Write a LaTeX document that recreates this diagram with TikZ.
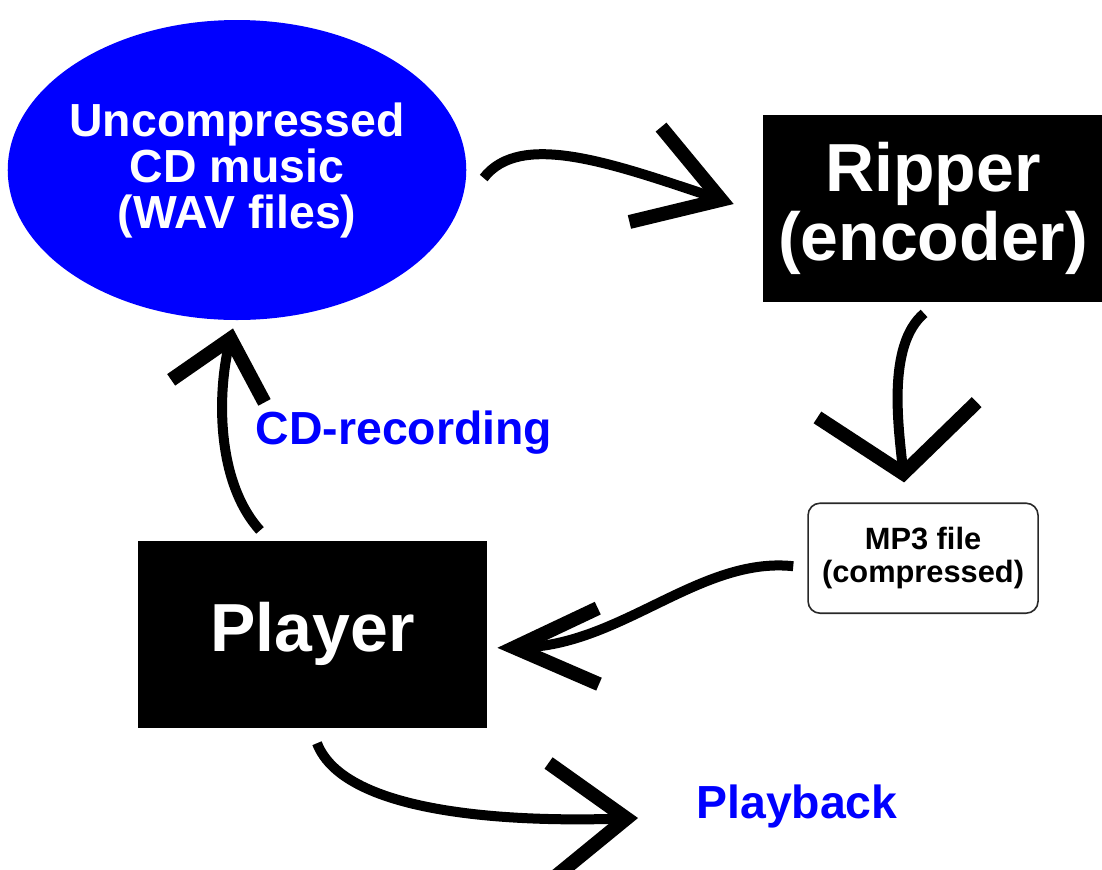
\documentclass[tikz,border=0pt]{standalone}
\usepackage{fontspec}
\setmainfont{Liberation Sans}
\usepackage{xcolor}
\definecolor{PureBlue}{RGB}{0,0,255}
\definecolor{InkBlack}{RGB}{0,0,0}
\definecolor{BorderGray}{RGB}{40,40,40}
\usepackage{tikz}
\usetikzlibrary{
  shapes, shapes.geometric,
  arrows, arrows.meta,
  positioning, calc
}
\tikzset{
  % Blue source blob
  wavblob/.style={
    ellipse, fill=PureBlue, text=white,
    minimum width=229pt, minimum height=150pt,
    inner xsep=-2.75pt, inner ysep=0pt, align=center,
    font=\fontsize{23.2}{23}\selectfont\bfseries
  },
  % Black process boxes
  blackbox/.style={
    rectangle, fill=InkBlack, text=white,
    minimum width=170pt, minimum height=93.5pt,
    inner sep=0pt, align=center,
    font=\fontsize{34}{34.5}\selectfont\bfseries
  },
  % Small rounded file box
  filebox/.style={
    rectangle, rounded corners=6pt,
    draw=BorderGray, line width=0.8pt, fill=white,
    minimum width=115pt, minimum height=55pt,
    inner sep=0pt, align=center,
    font=\fontsize{15.4}{16.5}\selectfont\bfseries
  },
  % Blue step label
  lbl/.style={
    text=PureBlue, inner sep=0pt,
    font=\fontsize{23.2}{23}\selectfont\bfseries
  },
  % Brush-stroke arrow, tip length / width
  brush/.style n args={2}{
    line width=5pt, InkBlack,
    -{Straight Barb[length=#1, width=#2, line width=7pt]}
  },
}

\begin{document}
\begin{tikzpicture}[x=0.5pt, y=-0.5pt]
  \useasboundingbox (0,0) rectangle (1102,869);

  %% ---- NODES ----
  \node[wavblob] (wav) at (237,170) {Uncompressed\\CD music\\(WAV files)};
  \node[blackbox, right=148pt of wav, yshift=-19.25pt] (ripper)
    {Ripper\\(encoder)};
  \node[filebox, below=100pt of ripper, xshift=-5pt] (mp3)
    {MP3 file\\(compressed)};
  \node[blackbox, minimum width=174.5pt, below=110pt of wav, xshift=37.75pt] (player)
    {Player};

  %% Labels
  \node[lbl] (rec) at (404,433) {CD-recording};
  \node[lbl] (play) at (797,806) {Playback};
  \coordinate (play_tip) at (638,818);

  %% ---- ARROWS ----
  \draw[brush={40pt}{50pt}] ($(wav.east)+(17,8)$)
    .. controls +(37,-48) and +(-120,-40) .. ($(ripper.west)+(-29,-4.5)$);
  \draw[brush={32pt}{80pt}] ($(ripper.south)+(-9,11)$)
    .. controls +(-38,32) and +(-5,-52) .. ($(mp3.north)+(-19,-20)$);
  \draw[brush={42pt}{38pt}] ($(mp3.west)+(-14,8)$)
    .. controls +(-93,-10) and +(123,-2) .. ($(player.east)+(10,13.5)$);
  \draw[brush={27pt}{48pt}] ($(player.north)+(-52.5,-10)$)
    .. controls +(-45,-50) and +(-15,62) .. ($(wav.south)+(-4,8)$);
  \draw[brush={38pt}{58pt}] ($(player.south)+(4.5,15)$)
    .. controls +(28,73) and +(-118,4) .. (play_tip);

\end{tikzpicture}
\end{document}
